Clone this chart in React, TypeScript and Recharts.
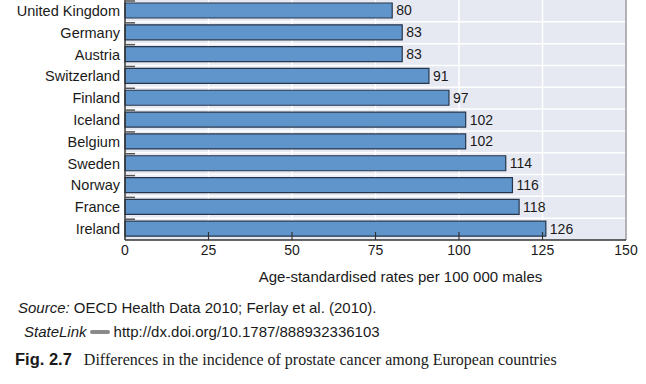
import React from 'react';
import { BarChart, Bar, XAxis, YAxis, CartesianGrid, LabelList, ReferenceLine } from 'recharts';

const countries = [
  'United Kingdom', 'Germany', 'Austria', 'Switzerland', 'Finland', 'Iceland',
  'Belgium', 'Sweden', 'Norway', 'France', 'Ireland',
];
const rates = [80, 83, 83, 91, 97, 102, 102, 114, 116, 118, 126];
const xTicks = [0, 25, 50, 75, 100, 125, 150];

const data = countries.map((c, i) => ({ country: c, rate: rates[i] }));

const FONT = '"Liberation Sans", Arial, Helvetica, sans-serif';
const SERIF = '"Liberation Serif", "Times New Roman", serif';

function CountryTick(props: any) {
  const { x, y, payload } = props;
  const band = 240 / countries.length;
  const top = y - band / 2;
  return (
    <g>
      <line x1={x + 5} x2={x + 15} y1={top + 1} y2={top + 1} stroke="#555" strokeWidth={1.5} />
      <text x={x} y={y} dy={5} textAnchor="end" fontSize={14.5} fill="#1a1a1a" fontFamily={FONT}>
        {payload.value}
      </text>
    </g>
  );
}

function ValueTick(props: any) {
  const { x, y, payload } = props;
  const inner = payload.value > 0 && payload.value < 150;
  return (
    <g>
      {inner && <line x1={x} x2={x} y1={y - 4} y2={y - 12} stroke="#333" strokeWidth={1.2} />}
      <text x={x} y={y} dy={11} textAnchor="middle" fontSize={14} fill="#1a1a1a" fontFamily={FONT}>
        {payload.value}
      </text>
    </g>
  );
}

function horizontalBounds({ offset }: any) {
  const n = countries.length;
  const out: number[] = [];
  for (let i = 1; i < n; i++) out.push(offset.top + (offset.height * i) / n);
  return out;
}

export default function App() {
  return (
    <div style={{ position: 'absolute', left: 0, top: 0, width: 646, height: 384, background: '#fff', fontFamily: FONT }}>
      <BarChart
        width={646}
        height={290}
        data={data}
        layout="vertical"
        margin={{ top: 0, right: 20, left: 0, bottom: 0 }}
        barSize={15}
      >
        <CartesianGrid
          fill="#e6e9f2"
          stroke="#ffffff"
          strokeWidth={1.5}
          horizontalCoordinatesGenerator={horizontalBounds}
        />
        <XAxis
          type="number"
          domain={[0, 150]}
          ticks={xTicks}
          height={50}
          tickLine={false}
          tickSize={0}
          tickMargin={4}
          axisLine={{ stroke: '#333', strokeWidth: 1.5 }}
          tick={<ValueTick />}
          label={{ value: 'Age-standardised rates per 100 000 males', position: 'insideBottom', offset: 8, dx: 25, fontSize: 15, fill: '#1a1a1a', fontFamily: FONT }}
        />
        <YAxis
          type="category"
          dataKey="country"
          width={125}
          tickLine={false}
          tickSize={0}
          tickMargin={5}
          axisLine={{ stroke: '#333', strokeWidth: 1.5 }}
          tick={<CountryTick />}
          interval={0}
        />
        <ReferenceLine x={150} stroke="#9a9a9a" strokeWidth={1.5} />
        <Bar dataKey="rate" fill="#6095cc" stroke="#27364a" strokeWidth={1.2} isAnimationActive={false}>
          <LabelList dataKey="rate" position="right" offset={4} fontSize={14} fill="#1a1a1a" fontFamily={FONT} />
        </Bar>
      </BarChart>
      <div style={{ position: 'absolute', left: 18, top: 299, fontSize: 15, color: '#1a1a1a', whiteSpace: 'nowrap' }}>
        <i>Source:</i> OECD Health Data 2010; Ferlay et al. (2010).
      </div>
      <div style={{ position: 'absolute', left: 24, top: 323, fontSize: 15, color: '#1a1a1a', whiteSpace: 'nowrap', display: 'flex', alignItems: 'center' }}>
        <i>StateLink</i>
        <span style={{ display: 'inline-block', width: 20, height: 4, background: '#8a8a8a', margin: '0 4px 0 3px', borderRadius: 2 }} />
        <span>http://dx.doi.org/10.1787/888932336103</span>
      </div>
      <div style={{ position: 'absolute', left: 15, top: 350, color: '#1a1a1a', whiteSpace: 'nowrap' }}>
        <b style={{ fontFamily: FONT, fontSize: 16.5 }}>Fig. 2.7</b>
        <span style={{ fontFamily: SERIF, fontSize: 16, marginLeft: 12 }}>
          Differences in the incidence of prostate cancer among European countries
        </span>
      </div>
    </div>
  );
}
